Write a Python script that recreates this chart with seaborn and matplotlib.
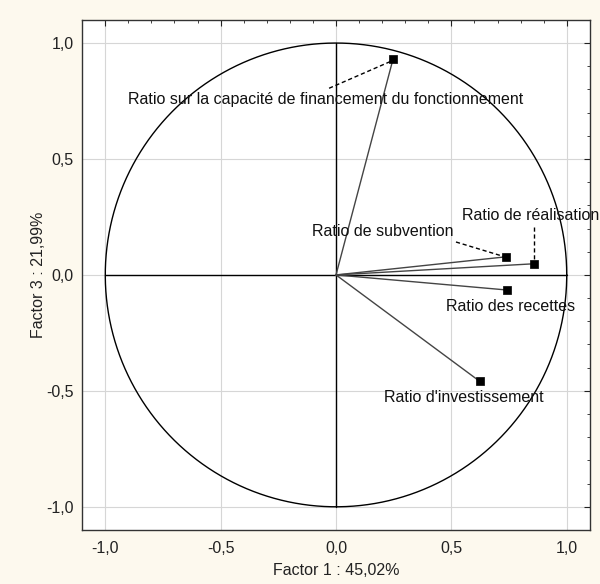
import numpy as np
import pandas as pd
import seaborn as sns
import matplotlib.pyplot as plt

# Variable coordinates on factors 1 and 3
variables = ['Ratio sur la capacité de financement du fonctionnement',
             'Ratio de subvention',
             'Ratio de réalisation',
             'Ratio des recettes',
             "Ratio d'investissement"]
factor1 = [0.247, 0.736, 0.857, 0.740, 0.623]
factor3 = [0.930, 0.078, 0.048, -0.065, -0.459]

df = pd.DataFrame({'Variable': variables, 'Factor 1': factor1, 'Factor 3': factor3})

sns.set_theme(style='white')
plt.rcParams['font.family'] = ['Liberation Sans', 'DejaVu Sans']

fig = plt.figure(figsize=(6, 5.84), dpi=100, facecolor='#fdf9ee')
ax = fig.add_axes([0.137, 0.0925, 0.846, 0.8735])
ax.set_facecolor('white')

# grid
for g in [-1.0, -0.5, 0.0, 0.5, 1.0]:
    ax.axvline(g, color='#d6d6d6', lw=0.8, zorder=0)
    ax.axhline(g, color='#d6d6d6', lw=0.8, zorder=0)

# unit circle and axes through origin
t = np.linspace(0, 2 * np.pi, 400)
ax.plot(np.cos(t), np.sin(t), color='black', lw=1.0, zorder=2)
ax.plot([-1, 1], [0, 0], color='black', lw=1.0, zorder=2)
ax.plot([0, 0], [-1, 1], color='black', lw=1.0, zorder=2)

# vectors from origin
for x, y in zip(df['Factor 1'], df['Factor 3']):
    ax.plot([0, x], [0, y], color='#444444', lw=1.0, zorder=3)

sns.scatterplot(data=df, x='Factor 1', y='Factor 3', marker='s', s=38,
                color='black', edgecolor='black', ax=ax, zorder=4)

# labels with leader lines
fs = 11.5
ax.text(-0.902, 0.755, variables[0], fontsize=fs, va='center', ha='left', color='#111111')
ax.plot([-0.03, 0.235], [0.805, 0.92], color='black', lw=1.0, ls=(0, (3, 2)), zorder=3)

ax.text(0.508, 0.186, variables[1], fontsize=fs, va='center', ha='right', color='#111111')
ax.plot([0.52, 0.725], [0.142, 0.08], color='black', lw=1.0, ls=(0, (3, 2)), zorder=3)

ax.text(0.548, 0.255, variables[2], fontsize=fs, va='center', ha='left', color='#111111', clip_on=False)
ax.plot([0.857, 0.857], [0.205, 0.06], color='black', lw=1.0, ls=(0, (3, 2)), zorder=3)

ax.text(0.476, -0.138, variables[3], fontsize=fs, va='center', ha='left', color='#111111')
ax.text(0.208, -0.528, variables[4], fontsize=fs, va='center', ha='left', color='#111111')

ax.set_xlim(-1.1, 1.1)
ax.set_ylim(-1.1, 1.1)
ticks = [-1.0, -0.5, 0.0, 0.5, 1.0]
ticklabels = ['-1,0', '-0,5', '0,0', '0,5', '1,0']
ax.set_xticks(ticks)
ax.set_xticklabels(ticklabels)
ax.set_yticks(ticks)
ax.set_yticklabels(ticklabels)
ax.set_xticks(np.arange(-1.0, 1.01, 0.1), minor=True)
ax.set_yticks(np.arange(-1.0, 1.01, 0.1), minor=True)
ax.tick_params(which='both', direction='in', top=True, right=True, labelsize=fs, colors='#222222')
ax.tick_params(which='major', length=4, width=0.8, pad=6)
ax.tick_params(axis='x', which='major', pad=8)
ax.tick_params(which='minor', length=2, width=0.6)
for sp in ax.spines.values():
    sp.set_color('#333333')
    sp.set_linewidth(1.0)

ax.set_xlabel('Factor 1 : 45,02%', fontsize=fs, color='#222222', labelpad=5)
ax.set_ylabel('Factor 3 : 21,99%', fontsize=fs, color='#222222', labelpad=0)

fig.savefig('out.png', dpi=100, facecolor=fig.get_facecolor())
